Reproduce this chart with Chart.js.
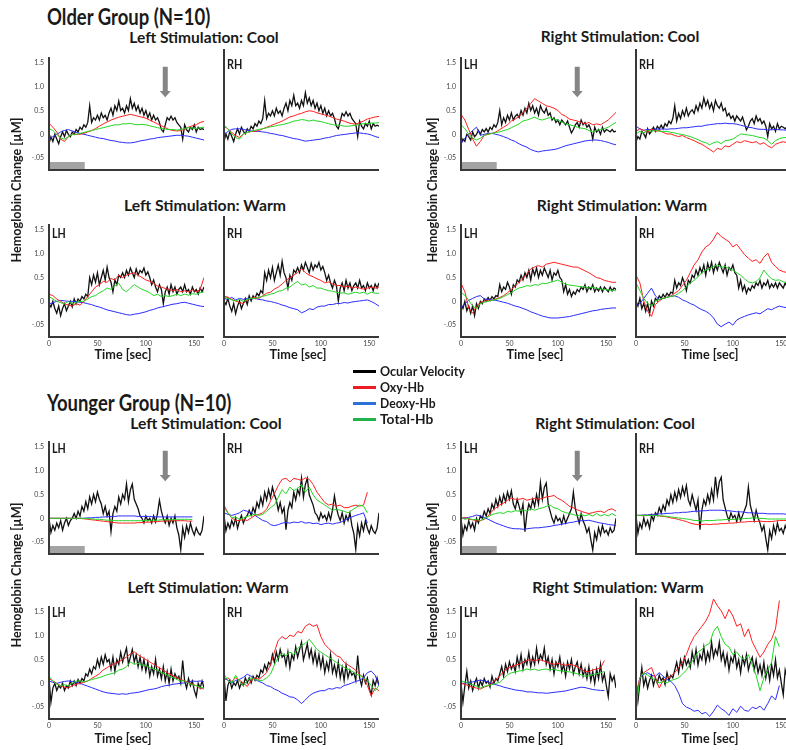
<!DOCTYPE html>
<html>
<head>
<meta charset="utf-8">
<script src="https://cdn.jsdelivr.net/npm/chart.js@4.4.1/dist/chart.umd.min.js"></script>
<style>
  body { margin: 0; width: 786px; height: 750px; overflow: hidden; background: #fff; position: relative; font-family: Lato, "Open Sans", sans-serif; }
  .t { position: absolute; font-weight: bold; white-space: nowrap; color: #1a1a1a; line-height: 1; }
  canvas { position: absolute; }
  .key { position: absolute; height: 3px; width: 23px; }
</style>
</head>
<body>
<script>
// ---- data ----
const hbTime = [0,4,8,12,16,20,24,28,32,36,40,44,48,52,56,60,64,68,72,76,80,84,88,92,96,100,104,108,112,116,120,124,128,132,136,140,144,148,152,156,160];
const eyeTime = Array.from({length: 81}, (_, i) => i * 2);
const xTicks = [0, 50, 100, 150];
const yTicks = [-0.5, 0, 0.5, 1.0, 1.5];
const yTickText = ['-.05', '0', '0.5', '1.0', '1.5'];
const seriesNames = ['Ocular Velocity', 'Oxy-Hb', 'Deoxy-Hb', 'Total-Hb'];
const stimBar = [0, 37];
const stimLevel = -0.58;
const cueTime = 120;

// older, left stimulation, cool
const oLCeye = [-0.2,-0.05,-0.15,0.0,-0.1,-0.2,-0.05,0.05,-0.05,0.08,0.0,-0.05,0.05,0.0,0.1,0.05,0.15,0.1,0.2,0.15,0.25,0.6,0.25,0.35,0.3,0.4,0.3,0.45,0.35,0.4,0.3,0.45,0.55,0.4,0.6,0.5,0.7,0.5,0.55,0.45,0.6,0.5,0.75,0.55,0.65,0.5,0.6,0.45,0.55,0.4,0.5,0.35,0.45,0.3,0.4,0.3,0.35,0.25,0.1,0.05,0.2,0.35,0.3,0.38,0.3,0.35,0.25,0.2,0.15,-0.1,0.2,0.1,0.05,0.15,0.1,0.2,0.05,0.15,0.1,0.12,0.1];
const oLC_LH_oxy = [0.23,0.15,0.05,-0.1,-0.15,-0.05,0.0,0.0,0.0,0.02,0.05,0.08,0.12,0.17,0.22,0.26,0.3,0.33,0.36,0.38,0.4,0.42,0.4,0.38,0.36,0.34,0.3,0.26,0.22,0.18,0.14,0.1,0.08,0.07,0.08,0.1,0.15,0.18,0.2,0.25,0.27];
const oLC_LH_deoxy = [-0.1,-0.05,0.0,0.05,0.08,0.1,0.07,0.04,0.02,0.0,-0.02,-0.04,-0.06,-0.08,-0.09,-0.11,-0.13,-0.14,-0.16,-0.17,-0.18,-0.18,-0.17,-0.15,-0.13,-0.12,-0.1,-0.09,-0.07,-0.06,-0.05,-0.04,-0.03,-0.02,-0.02,-0.03,-0.04,-0.06,-0.08,-0.1,-0.12];
const oLC_LH_total = [0.12,0.08,0.0,-0.08,-0.1,-0.05,0.0,0.0,0.02,0.04,0.06,0.08,0.1,0.12,0.14,0.16,0.18,0.2,0.2,0.22,0.22,0.23,0.21,0.2,0.21,0.2,0.18,0.16,0.14,0.12,0.11,0.1,0.1,0.09,0.1,0.12,0.14,0.13,0.12,0.14,0.15];
const oLC_RH_oxy = [0.1,0.05,-0.02,-0.08,-0.12,-0.05,-0.02,0.0,0.0,0.02,0.05,0.08,0.11,0.14,0.17,0.2,0.24,0.28,0.3,0.33,0.35,0.38,0.4,0.39,0.36,0.34,0.32,0.3,0.27,0.24,0.22,0.2,0.17,0.15,0.14,0.17,0.2,0.24,0.26,0.28,0.29];
const oLC_RH_deoxy = [-0.08,0.0,0.04,0.05,0.05,0.04,0.02,0.01,0.0,0.0,-0.01,-0.02,-0.04,-0.05,-0.07,-0.08,-0.1,-0.12,-0.14,-0.15,-0.17,-0.19,-0.18,-0.17,-0.16,-0.15,-0.13,-0.12,-0.1,-0.08,-0.07,-0.06,-0.05,-0.04,-0.03,-0.03,-0.04,-0.05,-0.07,-0.1,-0.12];
const oLC_RH_total = [0.12,0.05,-0.05,-0.12,-0.15,-0.05,-0.02,0.0,0.02,0.04,0.05,0.07,0.09,0.1,0.12,0.13,0.15,0.17,0.2,0.21,0.23,0.22,0.2,0.22,0.2,0.19,0.17,0.15,0.13,0.12,0.12,0.1,0.1,0.11,0.12,0.14,0.15,0.15,0.16,0.16,0.17];

// older, left stimulation, warm
const oLWeye = [-0.05,-0.12,0.0,-0.15,-0.25,-0.1,-0.3,-0.15,-0.05,-0.2,-0.1,0.0,-0.12,0.05,-0.05,0.05,0.0,0.1,0.05,0.15,0.1,0.5,0.35,0.55,0.4,0.6,0.35,0.5,0.65,0.45,0.72,0.5,0.4,0.2,0.45,0.35,0.55,0.5,0.6,0.5,0.65,0.55,0.7,0.6,0.5,0.68,0.55,0.65,0.6,0.7,0.55,0.62,0.5,0.35,0.45,0.3,0.2,0.35,0.25,-0.05,0.2,0.3,0.15,0.35,0.2,0.3,0.15,0.25,0.3,0.2,0.35,0.2,0.25,0.15,0.3,0.2,0.25,0.15,0.28,0.2,0.3];
const oLW_LH_oxy = [0.15,0.12,0.05,0.0,-0.05,-0.08,-0.1,-0.05,-0.08,0.0,0.1,0.2,0.3,0.35,0.42,0.4,0.48,0.45,0.55,0.5,0.55,0.58,0.6,0.55,0.5,0.45,0.42,0.38,0.32,0.3,0.27,0.25,0.22,0.25,0.2,0.22,0.2,0.24,0.2,0.25,0.5];
const oLW_LH_deoxy = [-0.06,-0.03,0.0,0.02,0.01,0.0,0.0,-0.01,-0.02,-0.03,-0.05,-0.07,-0.1,-0.12,-0.15,-0.18,-0.2,-0.22,-0.24,-0.26,-0.28,-0.29,-0.27,-0.26,-0.24,-0.22,-0.19,-0.17,-0.14,-0.12,-0.1,-0.08,-0.06,-0.05,-0.03,-0.02,-0.04,-0.06,-0.08,-0.1,-0.11];
const oLW_LH_total = [0.1,0.05,0.0,-0.03,-0.05,0.0,-0.05,-0.02,0.0,0.0,0.05,0.1,0.12,0.18,0.22,0.28,0.25,0.33,0.38,0.25,0.2,0.28,0.35,0.3,0.25,0.22,0.18,0.12,0.15,0.1,0.12,0.1,0.12,0.15,0.12,0.15,0.13,0.16,0.15,0.18,0.2];
const oLW_RH_oxy = [0.05,0.02,-0.02,-0.05,-0.08,-0.1,-0.03,0.0,0.02,0.0,0.05,0.1,0.12,0.18,0.22,0.28,0.35,0.4,0.45,0.5,0.58,0.5,0.45,0.42,0.38,0.35,0.3,0.32,0.28,0.25,0.25,0.22,0.24,0.2,0.22,0.2,0.18,0.2,0.22,0.2,0.22];
const oLW_RH_deoxy = [0.0,-0.02,0.02,-0.03,0.0,-0.02,0.0,-0.01,0.0,-0.02,-0.03,-0.05,-0.06,-0.08,-0.1,-0.13,-0.15,-0.18,-0.2,-0.22,-0.28,-0.25,-0.2,-0.22,-0.17,-0.15,-0.15,-0.12,-0.12,-0.1,-0.1,-0.08,-0.09,-0.07,-0.06,-0.05,-0.04,-0.03,-0.06,-0.1,-0.15];
const oLW_RH_total = [0.03,0.0,-0.03,-0.05,-0.02,-0.06,-0.02,0.0,0.0,0.02,0.04,0.06,0.08,0.1,0.14,0.15,0.2,0.22,0.28,0.33,0.26,0.28,0.22,0.25,0.2,0.2,0.17,0.15,0.14,0.12,0.1,0.11,0.08,0.1,0.12,0.1,0.12,0.08,0.12,0.1,0.1];

// older, right stimulation, cool
const oRCeye = [-0.2,-0.1,-0.15,0.0,-0.05,-0.12,0.05,-0.05,0.0,0.08,0.0,0.1,0.05,0.12,0.05,0.15,0.1,0.2,0.15,0.25,0.5,0.2,0.35,0.25,0.4,0.3,0.45,0.3,0.38,0.42,0.35,0.5,0.4,0.55,0.45,0.65,0.5,0.6,0.45,0.55,0.4,0.6,0.5,0.45,0.55,0.4,0.45,0.3,0.35,0.25,0.3,0.2,0.3,0.25,0.2,0.28,0.15,0.03,0.1,0.2,0.25,0.15,0.3,0.2,0.25,0.15,0.2,0.1,-0.1,0.15,0.05,0.1,0.0,0.15,0.05,0.1,0.08,0.05,0.1,0.05,0.07];
const oRC_LH_oxy = [0.42,0.3,0.1,-0.1,-0.25,-0.15,-0.02,0.0,0.02,0.05,0.1,0.15,0.2,0.28,0.32,0.38,0.45,0.55,0.65,0.75,0.7,0.65,0.6,0.58,0.55,0.5,0.42,0.38,0.32,0.3,0.28,0.25,0.22,0.25,0.2,0.22,0.2,0.25,0.3,0.38,0.46];
const oRC_LH_deoxy = [-0.2,-0.08,0.0,0.08,0.15,-0.02,0.0,0.02,0.02,0.0,-0.02,-0.05,-0.08,-0.12,-0.15,-0.2,-0.24,-0.27,-0.32,-0.35,-0.37,-0.35,-0.34,-0.33,-0.32,-0.3,-0.27,-0.24,-0.22,-0.2,-0.18,-0.16,-0.14,-0.13,-0.12,-0.12,-0.13,-0.15,-0.17,-0.2,-0.22];
const oRC_LH_total = [0.2,0.12,0.0,-0.08,-0.12,-0.08,-0.02,0.0,0.02,0.04,0.05,0.08,0.1,0.14,0.18,0.22,0.28,0.3,0.33,0.36,0.32,0.3,0.33,0.35,0.32,0.3,0.26,0.22,0.2,0.18,0.15,0.13,0.12,0.08,0.05,0.08,0.1,0.12,0.15,0.2,0.25];
const oRC_RH_oxy = [0.0,0.05,0.02,-0.02,0.05,0.0,0.02,-0.02,-0.05,-0.05,-0.08,-0.1,-0.08,-0.12,-0.15,-0.18,-0.22,-0.25,-0.3,-0.35,-0.4,-0.33,-0.35,-0.28,-0.3,-0.25,-0.2,-0.22,-0.18,-0.2,-0.22,-0.2,-0.25,-0.22,-0.28,-0.32,-0.25,-0.22,-0.2,-0.22,-0.2];
const oRC_RH_deoxy = [0.1,0.05,0.02,0.04,0.03,0.05,0.04,0.05,0.04,0.05,0.05,0.06,0.07,0.07,0.08,0.09,0.1,0.1,0.12,0.13,0.14,0.15,0.15,0.16,0.15,0.15,0.14,0.12,0.1,0.08,0.07,0.05,0.04,0.04,0.03,0.03,0.04,0.03,0.03,0.02,0.02];
const oRC_RH_total = [-0.05,0.0,-0.03,0.02,0.0,0.02,0.0,0.0,0.0,-0.02,-0.03,-0.05,-0.06,-0.08,-0.1,-0.13,-0.16,-0.2,-0.22,-0.26,-0.22,-0.2,-0.24,-0.18,-0.17,-0.15,-0.1,-0.05,-0.06,-0.07,-0.08,-0.1,-0.12,-0.13,-0.18,-0.25,-0.18,-0.14,-0.12,-0.12,-0.1];

// older, right stimulation, warm
const oRWeye = [-0.05,-0.15,0.0,-0.2,-0.1,-0.25,-0.1,-0.3,-0.05,-0.15,0.0,-0.05,0.05,0.0,0.08,0.02,0.1,0.05,0.12,0.1,0.35,0.2,0.3,0.25,0.4,0.3,0.15,0.35,0.3,0.45,0.4,0.55,0.45,0.6,0.5,0.65,0.45,0.68,0.55,0.7,0.5,0.65,0.55,0.7,0.6,0.5,0.65,0.45,0.6,0.55,0.65,0.5,0.45,0.2,0.35,0.15,0.25,0.1,0.2,0.15,0.25,0.2,0.3,0.25,0.35,0.2,0.3,0.25,0.35,0.2,0.28,0.22,0.3,0.2,0.3,0.25,0.2,0.3,0.22,0.28,0.25];
const oRW_LH_oxy = [0.38,0.2,-0.15,-0.25,-0.1,-0.02,0.0,0.02,0.02,0.05,0.08,0.12,0.18,0.25,0.32,0.4,0.48,0.58,0.68,0.72,0.75,0.72,0.78,0.8,0.82,0.8,0.78,0.76,0.74,0.72,0.72,0.68,0.64,0.6,0.55,0.5,0.48,0.44,0.42,0.4,0.4];
const oRW_LH_deoxy = [-0.15,-0.05,0.02,0.06,0.1,0.12,0.05,0.04,0.03,0.02,0.0,-0.02,-0.04,-0.07,-0.1,-0.12,-0.15,-0.18,-0.22,-0.25,-0.28,-0.31,-0.33,-0.35,-0.35,-0.35,-0.34,-0.33,-0.32,-0.3,-0.28,-0.26,-0.24,-0.22,-0.2,-0.19,-0.17,-0.16,-0.15,-0.14,-0.14];
const oRW_LH_total = [0.2,0.12,0.02,-0.1,-0.15,-0.05,-0.02,0.0,0.02,0.04,0.06,0.1,0.14,0.18,0.24,0.28,0.3,0.33,0.32,0.35,0.34,0.38,0.37,0.4,0.42,0.45,0.4,0.36,0.34,0.33,0.32,0.3,0.31,0.28,0.3,0.27,0.26,0.25,0.24,0.23,0.22];
const oRW_RH_oxy = [0.45,0.3,-0.05,-0.25,-0.35,-0.12,-0.05,0.0,0.02,0.05,0.1,0.15,0.25,0.35,0.5,0.65,0.75,0.9,1.0,1.05,1.15,1.28,1.2,1.15,1.1,1.0,1.05,0.95,0.85,0.78,0.72,0.75,0.68,0.8,0.88,0.7,0.62,0.55,0.52,0.5,0.48];
const oRW_RH_deoxy = [-0.15,-0.1,0.0,0.1,0.2,0.05,-0.02,0.0,0.02,0.04,0.05,0.02,-0.03,-0.06,-0.1,-0.13,-0.18,-0.22,-0.25,-0.3,-0.38,-0.5,-0.55,-0.5,-0.46,-0.52,-0.42,-0.38,-0.35,-0.32,-0.3,-0.28,-0.3,-0.25,-0.2,-0.22,-0.18,-0.15,-0.17,-0.18,-0.18];
const oRW_RH_total = [0.3,0.15,0.0,-0.1,-0.15,-0.05,-0.02,0.0,0.02,0.04,0.05,0.1,0.15,0.22,0.3,0.35,0.42,0.5,0.55,0.58,0.62,0.65,0.6,0.62,0.58,0.55,0.5,0.45,0.38,0.32,0.3,0.33,0.4,0.55,0.45,0.38,0.35,0.36,0.32,0.3,0.3];

// younger, left stimulation, cool
const yLCeye = [0.0,-0.3,-0.15,-0.25,-0.1,-0.2,-0.05,-0.25,-0.1,0.0,-0.15,-0.05,0.0,0.1,0.0,0.15,0.05,0.25,0.15,0.35,0.2,0.45,0.3,0.5,0.35,0.55,0.4,0.3,0.1,0.25,0.05,0.15,-0.28,0.1,0.25,0.15,0.45,0.3,0.5,0.4,0.72,0.35,0.6,0.72,0.4,0.3,0.2,0.05,0.0,-0.1,0.05,-0.05,0.0,-0.1,0.05,-0.08,0.1,0.38,0.15,0.0,-0.1,0.05,-0.15,0.0,-0.1,0.05,-0.2,-0.35,-0.66,-0.2,-0.4,-0.15,-0.3,-0.1,-0.25,-0.35,-0.2,-0.3,-0.35,-0.25,0.05];
const yLC_LH_oxy = [0,0,0,0,0,0,0,0,0,-0.01,-0.02,-0.03,-0.04,-0.05,-0.06,-0.07,-0.08,-0.09,-0.1,-0.1,-0.1,-0.1,-0.1,-0.09,-0.09,-0.08,-0.08,-0.07,-0.07,-0.06,-0.06,-0.05,-0.05,-0.05,-0.05,-0.05,-0.06,-0.06];
const yLC_LH_deoxy = [0,0,0,0,0,0,0,0,0,0.0,0.01,0.01,0.02,0.02,0.03,0.03,0.04,0.04,0.05,0.05,0.05,0.05,0.05,0.04,0.04,0.04,0.04,0.03,0.03,0.03,0.03,0.03,0.03,0.03,0.03,0.03,0.03,0.03];
const yLC_LH_total = [0,0,0,0,0,0,0,0,0,0.0,-0.01,-0.01,-0.02,-0.02,-0.03,-0.04,-0.04,-0.05,-0.05,-0.05,-0.05,-0.05,-0.05,-0.05,-0.05,-0.05,-0.04,-0.04,-0.04,-0.03,-0.03,-0.03,-0.03,-0.02,-0.02,-0.02,-0.02,-0.03];
const yLC_RH_oxy = [0.2,0.05,-0.05,-0.1,-0.1,-0.08,-0.1,-0.05,0.0,0.02,0.05,0.12,0.28,0.42,0.58,0.7,0.72,0.65,0.72,0.7,0.68,0.73,0.7,0.6,0.45,0.35,0.25,0.2,0.22,0.18,0.2,0.15,0.15,0.18,0.2,0.18,0.2,0.45];
const yLC_RH_deoxy = [0.05,0.02,0.0,0.02,0.05,0.1,0.08,0.05,0.0,-0.05,-0.1,-0.12,-0.18,-0.2,-0.18,-0.15,-0.14,-0.15,-0.13,-0.14,-0.12,-0.15,-0.14,-0.16,-0.15,-0.18,-0.16,-0.15,-0.17,-0.15,-0.14,-0.1,-0.06,-0.03,0.0,0.02,0.05,-0.15];
const yLC_RH_total = [0.15,0.05,-0.05,-0.03,-0.08,-0.05,-0.02,0.0,0.02,0.0,0.02,0.08,0.15,0.2,0.35,0.5,0.42,0.55,0.48,0.52,0.6,0.45,0.55,0.4,0.3,0.25,0.2,0.15,0.1,0.12,0.1,0.08,0.05,0.1,0.15,0.2,0.18,0.05];

// younger, right stimulation, cool
const yRCeye = [0.0,-0.35,-0.15,-0.25,-0.05,-0.2,-0.1,-0.25,0.0,-0.1,0.05,0.0,0.15,0.05,0.2,0.1,0.3,0.2,0.4,0.25,0.45,0.3,0.5,0.35,0.55,0.4,0.58,0.3,0.2,0.4,0.25,0.1,0.3,-0.28,0.1,0.3,0.2,0.4,0.25,0.5,0.3,0.75,0.4,0.65,0.74,0.3,0.15,0.0,-0.1,0.05,-0.05,0.0,-0.12,0.05,-0.1,0.0,0.1,0.2,0.55,0.2,0.05,-0.1,0.1,-0.05,-0.15,-0.3,-0.2,-0.45,-0.67,-0.3,-0.45,-0.2,-0.35,-0.15,-0.3,-0.25,-0.35,-0.2,-0.3,-0.25,0.0];
const yRC_LH_oxy = [0.0,0.02,-0.02,-0.03,-0.05,-0.05,-0.02,0.05,0.15,0.22,0.28,0.32,0.38,0.42,0.4,0.4,0.42,0.38,0.4,0.42,0.4,0.42,0.45,0.46,0.48,0.42,0.38,0.32,0.25,0.22,0.18,0.15,0.12,0.1,0.12,0.14,0.15,0.12,0.18,0.2,0.15];
const yRC_LH_deoxy = [0.0,0.0,0.02,0.04,0.07,0.05,0.02,-0.02,-0.06,-0.1,-0.13,-0.16,-0.19,-0.21,-0.22,-0.22,-0.23,-0.22,-0.21,-0.2,-0.2,-0.19,-0.18,-0.17,-0.15,-0.14,-0.12,-0.11,-0.09,-0.08,-0.06,-0.05,-0.05,-0.04,-0.06,-0.08,-0.1,-0.11,-0.13,-0.14,-0.15];
const yRC_LH_total = [0.02,-0.02,0.0,-0.03,-0.02,-0.05,0.0,0.03,0.08,0.1,0.12,0.1,0.15,0.13,0.16,0.15,0.18,0.15,0.2,0.17,0.2,0.22,0.25,0.28,0.22,0.2,0.15,0.12,0.1,0.08,0.05,0.08,0.05,0.08,0.05,0.1,0.05,0.08,0.05,0.1,0.05];
const yRC_RH_oxy = [0.0,0.0,-0.01,0.0,0.0,0.0,-0.01,-0.02,-0.03,-0.05,-0.06,-0.08,-0.1,-0.12,-0.15,-0.17,-0.18,-0.18,-0.17,-0.18,-0.17,-0.17,-0.16,-0.16,-0.15,-0.15,-0.14,-0.13,-0.13,-0.12,-0.12,-0.12,-0.11,-0.12,-0.12,-0.12,-0.11,-0.1,-0.1,-0.1,-0.1];
const yRC_RH_deoxy = [0.0,0.0,0.01,0.01,0.02,0.02,0.03,0.03,0.04,0.04,0.05,0.05,0.06,0.06,0.07,0.08,0.08,0.09,0.09,0.1,0.1,0.1,0.1,0.09,0.09,0.08,0.07,0.07,0.06,0.05,0.05,0.04,0.04,0.04,0.03,0.03,0.03,0.03,0.03,0.02,0.02];
const yRC_RH_total = [0.0,0.0,0.0,0.0,0.0,0.0,-0.01,-0.01,-0.02,-0.03,-0.04,-0.05,-0.06,-0.07,-0.08,-0.1,-0.1,-0.11,-0.1,-0.1,-0.1,-0.09,-0.09,-0.08,-0.08,-0.08,-0.07,-0.07,-0.06,-0.06,-0.05,-0.05,-0.06,-0.06,-0.07,-0.07,-0.07,-0.07,-0.07,-0.07,-0.07];

// younger, left stimulation, warm
const yLWeye = [0.1,-0.4,-0.1,0.0,-0.15,-0.05,-0.1,0.0,-0.15,-0.05,-0.1,0.05,-0.05,0.05,-0.05,0.08,0.0,0.1,0.05,0.2,0.15,0.3,0.2,0.35,0.3,0.5,0.35,0.55,0.4,0.6,0.45,0.5,0.3,0.55,0.25,0.5,0.4,0.65,0.45,0.6,0.74,0.4,0.55,0.71,0.45,0.6,0.35,0.55,0.3,0.5,0.25,0.45,0.15,0.35,0.2,0.5,0.15,0.3,0.1,0.35,0.05,0.25,0.0,0.3,0.05,0.2,0.1,0.15,0.0,0.48,0.05,-0.1,0.1,-0.05,0.05,-0.15,-0.28,0.0,-0.1,0.05,-0.1];
const yLW_LH_oxy = [0.1,0.05,0.0,-0.05,-0.08,-0.1,-0.05,-0.02,0.0,0.02,0.05,0.1,0.15,0.2,0.28,0.33,0.38,0.42,0.45,0.5,0.55,0.62,0.66,0.6,0.55,0.5,0.45,0.4,0.35,0.3,0.25,0.2,0.16,0.12,0.08,0.05,0.02,-0.02,-0.05,-0.1,-0.12];
const yLW_LH_deoxy = [0.05,0.02,0.0,0.02,0.04,0.05,0.04,0.02,0.0,-0.03,-0.06,-0.09,-0.12,-0.15,-0.18,-0.2,-0.21,-0.22,-0.23,-0.22,-0.23,-0.21,-0.2,-0.19,-0.17,-0.15,-0.13,-0.12,-0.1,-0.07,-0.05,-0.04,-0.02,-0.01,0.0,0.01,0.03,0.05,0.04,0.05,0.03];
const yLW_LH_total = [0.15,0.05,-0.02,-0.05,-0.03,-0.05,0.0,0.05,0.05,0.03,0.05,0.08,0.1,0.12,0.15,0.18,0.2,0.22,0.28,0.3,0.35,0.45,0.4,0.42,0.38,0.38,0.33,0.3,0.28,0.22,0.2,0.15,0.12,0.08,0.05,0.05,0.0,-0.03,-0.05,-0.08,-0.1];
const yLW_RH_oxy = [0.0,0.05,-0.02,0.05,0.0,-0.05,-0.12,0.0,0.05,0.02,0.08,0.15,0.3,0.55,0.78,0.85,0.8,0.88,0.85,0.95,0.92,1.05,1.1,1.05,1.08,0.85,0.7,0.62,0.55,0.48,0.45,0.35,0.3,0.25,0.2,0.12,0.05,-0.1,-0.3,-0.15,-0.2];
const yLW_RH_deoxy = [0.05,0.0,-0.05,0.0,0.02,0.06,0.12,0.08,0.02,-0.02,-0.05,-0.1,-0.12,-0.17,-0.2,-0.25,-0.28,-0.32,-0.33,-0.38,-0.45,-0.38,-0.3,-0.25,-0.22,-0.2,-0.2,-0.16,-0.17,-0.14,-0.15,-0.1,-0.08,-0.05,-0.02,0.0,0.05,0.15,0.18,0.1,-0.1];
const yLW_RH_total = [0.12,0.0,-0.05,0.1,-0.02,-0.1,0.0,0.05,0.02,0.0,0.0,0.05,0.12,0.3,0.45,0.52,0.48,0.55,0.5,0.62,0.68,0.72,0.8,0.7,0.6,0.55,0.5,0.45,0.4,0.35,0.3,0.25,0.22,0.18,0.12,0.1,0.05,0.0,-0.1,-0.2,-0.1];

// younger, right stimulation, warm
const yRWeye = [0.0,-0.4,-0.05,0.25,-0.1,0.05,-0.15,0.0,0.1,-0.1,0.05,-0.05,0.1,0.0,0.05,-0.08,0.15,0.0,0.1,0.05,0.2,0.35,0.15,0.4,0.25,0.45,0.3,0.4,0.25,0.55,0.35,0.6,0.3,0.5,0.4,0.65,0.35,0.55,0.4,0.74,0.45,0.6,0.5,0.74,0.4,0.55,0.3,0.5,0.2,0.45,0.35,0.55,0.25,0.4,0.15,0.45,0.3,0.5,0.2,0.35,0.45,0.2,0.4,0.15,0.3,0.1,0.35,0.05,0.25,0.0,0.3,0.1,0.4,0.05,0.2,-0.05,-0.28,0.2,0.05,0.15,-0.1];
const yRW_LH_oxy = [0.0,-0.02,-0.05,-0.08,-0.1,-0.12,-0.08,-0.05,0.0,0.08,0.15,0.25,0.32,0.35,0.38,0.4,0.45,0.48,0.5,0.47,0.5,0.48,0.45,0.42,0.4,0.42,0.4,0.38,0.4,0.38,0.35,0.3,0.25,0.25,0.28,0.3,0.32,0.48];
const yRW_LH_deoxy = [0.0,0.0,0.02,0.03,0.05,0.07,0.05,0.03,0.0,-0.03,-0.05,-0.08,-0.1,-0.12,-0.14,-0.15,-0.16,-0.18,-0.18,-0.19,-0.2,-0.2,-0.21,-0.2,-0.19,-0.18,-0.17,-0.16,-0.14,-0.12,-0.1,-0.08,-0.09,-0.11,-0.13,-0.14,-0.15,-0.15];
const yRW_LH_total = [0.05,0.03,0.0,-0.03,-0.06,-0.1,-0.06,-0.05,-0.03,0.0,0.02,0.1,0.18,0.22,0.24,0.26,0.27,0.3,0.28,0.3,0.27,0.29,0.3,0.28,0.3,0.27,0.26,0.25,0.24,0.22,0.2,0.18,0.15,0.16,0.18,0.2,0.22,0.25];
const yRW_RH_oxy = [-0.3,0.05,0.15,0.2,0.25,0.05,-0.15,0.0,0.05,0.08,0.15,0.25,0.35,0.5,0.7,0.85,0.95,1.05,1.15,1.3,1.58,1.45,1.35,1.2,1.38,1.25,1.05,1.1,0.85,1.0,0.75,0.6,0.45,0.55,0.7,0.8,1.0,1.55];
const yRW_RH_deoxy = [-0.3,0.05,0.12,0.15,0.1,0.08,0.15,0.08,0.02,-0.02,-0.1,-0.25,-0.45,-0.52,-0.55,-0.6,-0.58,-0.65,-0.62,-0.7,-0.6,-0.48,-0.55,-0.6,-0.68,-0.55,-0.62,-0.5,-0.58,-0.6,-0.52,-0.55,-0.5,-0.58,-0.45,-0.3,-0.38,-0.1];
const yRW_RH_total = [-0.55,0.05,0.15,0.1,0.05,0.0,-0.05,-0.02,-0.05,0.0,0.02,0.05,0.12,0.2,0.32,0.42,0.55,0.6,0.68,0.72,0.95,1.05,0.85,0.7,0.65,0.5,0.55,0.45,0.4,0.5,0.3,0.1,-0.2,0.05,0.2,0.35,0.85,0.65];

// ---- layout ----
const colors = { eye: '#111111', oxy: '#ff1f1f', deoxy: '#2b2bff', total: '#22d622' };
const rowTop = [49, 216, 433, 598];
const plotH = 121, plotW = 155, yAxisW = 30, xAxisH = 14;
const pairX = [[49, 224], [461, 636]];
const labelY = [64, 233, 448, 612];

const conditions = [
  { row: 0, pair: 0, cool: true,  eye: oLCeye, lh: [oLC_LH_oxy, oLC_LH_deoxy, oLC_LH_total], rh: [oLC_RH_oxy, oLC_RH_deoxy, oLC_RH_total], noLH: true },
  { row: 0, pair: 1, cool: true,  eye: oRCeye, lh: [oRC_LH_oxy, oRC_LH_deoxy, oRC_LH_total], rh: [oRC_RH_oxy, oRC_RH_deoxy, oRC_RH_total] },
  { row: 1, pair: 0, cool: false, eye: oLWeye, lh: [oLW_LH_oxy, oLW_LH_deoxy, oLW_LH_total], rh: [oLW_RH_oxy, oLW_RH_deoxy, oLW_RH_total] },
  { row: 1, pair: 1, cool: false, eye: oRWeye, lh: [oRW_LH_oxy, oRW_LH_deoxy, oRW_LH_total], rh: [oRW_RH_oxy, oRW_RH_deoxy, oRW_RH_total] },
  { row: 2, pair: 0, cool: true,  eye: yLCeye, lh: [yLC_LH_oxy, yLC_LH_deoxy, yLC_LH_total], rh: [yLC_RH_oxy, yLC_RH_deoxy, yLC_RH_total] },
  { row: 2, pair: 1, cool: true,  eye: yRCeye, lh: [yRC_LH_oxy, yRC_LH_deoxy, yRC_LH_total], rh: [yRC_RH_oxy, yRC_RH_deoxy, yRC_RH_total] },
  { row: 3, pair: 0, cool: false, eye: yLWeye, lh: [yLW_LH_oxy, yLW_LH_deoxy, yLW_LH_total], rh: [yLW_RH_oxy, yLW_RH_deoxy, yLW_RH_total] },
  { row: 3, pair: 1, cool: false, eye: yRWeye, lh: [yRW_LH_oxy, yRW_LH_deoxy, yRW_LH_total], rh: [yRW_RH_oxy, yRW_RH_deoxy, yRW_RH_total] }
];

function pts(times, vals) { return vals.map((v, i) => ({ x: times[i], y: v })); }

// grey cue arrow drawn through the chart scales
const cueArrow = {
  id: 'cueArrow',
  afterDatasetsDraw(chart, args, opts) {
    if (!opts.show) return;
    const { ctx, scales: { x, y } } = chart;
    const cx = x.getPixelForValue(cueTime);
    const top = y.getPixelForValue(1.42), neck = y.getPixelForValue(0.91), tip = y.getPixelForValue(0.78);
    ctx.save();
    ctx.fillStyle = '#858585';
    ctx.fillRect(cx - 2.5, top, 5, neck - top);
    ctx.beginPath();
    ctx.moveTo(cx - 5.5, neck); ctx.lineTo(cx + 5.5, neck); ctx.lineTo(cx, tip);
    ctx.closePath(); ctx.fill();
    ctx.restore();
  }
};

function makePanel(left, top, eye, hb, showYTicks, showXTicks, cue) {
  const cv = document.createElement('canvas');
  cv.width = yAxisW + plotW; cv.height = plotH + xAxisH;
  cv.style.left = (left - yAxisW) + 'px'; cv.style.top = top + 'px';
  document.body.appendChild(cv);
  const datasets = [
    { data: pts(eyeTime, eye), borderColor: colors.eye, borderWidth: 1.3, order: 4 },
    { data: pts(hbTime, hb[0]), borderColor: colors.oxy, borderWidth: 1, order: 2 },
    { data: pts(hbTime, hb[1]), borderColor: colors.deoxy, borderWidth: 1, order: 3 },
    { data: pts(hbTime, hb[2]), borderColor: colors.total, borderWidth: 1, order: 1 }
  ];
  if (cue) {
    datasets.push({ data: stimBar.map(t => ({ x: t, y: stimLevel })), borderWidth: 0, backgroundColor: '#a3a3a3', fill: 'start', order: 5 });
  }
  datasets.forEach(d => { d.pointRadius = 0; d.tension = 0; if (!d.fill) d.fill = false; });
  new Chart(cv, {
    type: 'line',
    data: { datasets },
    plugins: [cueArrow],
    options: {
      animation: false, responsive: false, events: [],
      layout: { padding: 0, autoPadding: false },
      plugins: { legend: { display: false }, tooltip: { enabled: false }, cueArrow: { show: cue } },
      scales: {
        x: {
          type: 'linear', min: 0, max: 160,
          afterBuildTicks: s => { s.ticks = xTicks.map(v => ({ value: v })); },
          afterFit: s => { s.height = xAxisH; },
          grid: { display: false, drawTicks: false },
          border: { color: '#383838', width: 2, z: 1 },
          ticks: { display: showXTicks, padding: 3, maxRotation: 0, autoSkip: false, color: '#444', font: { size: 7, family: 'Lato' }, callback: v => String(v) }
        },
        y: {
          min: -0.75, max: 1.6,
          afterBuildTicks: s => { s.ticks = yTicks.map(v => ({ value: v })); },
          afterFit: s => { s.width = yAxisW; },
          grid: { display: false, drawTicks: false },
          border: { color: '#383838', width: 2, z: 1 },
          ticks: { display: showYTicks, padding: 5, color: '#444', font: { size: 7, family: 'Lato' }, callback: v => yTickText[yTicks.indexOf(v)] }
        }
      }
    }
  });
}

conditions.forEach(c => {
  const [lx, rx] = pairX[c.pair];
  const top = rowTop[c.row];
  const warm = !c.cool;
  makePanel(lx, top, c.eye, c.lh, true, warm, c.cool);
  makePanel(rx, top, c.eye, c.rh, false, warm, false);
});

// ---- text ----
function text(str, x, y, size, w, align, rot) {
  const d = document.createElement('div');
  d.className = 't';
  d.textContent = str;
  d.style.fontSize = size + 'px';
  d.style.left = x + 'px'; d.style.top = y + 'px';
  document.body.appendChild(d);
  const sx = w ? w / d.offsetWidth : 1;
  const tx = align === 'left' ? '0' : '-50%';
  d.style.transformOrigin = align === 'left' ? '0 50%' : '50% 50%';
  d.style.transform = `translate(${tx},-50%)` + (rot ? ' rotate(-90deg)' : '') + ` scaleX(${sx})`;
  return d;
}

text('Older Group (N=10)', 47, 17, 22, 163, 'left');
text('Younger Group (N=10)', 47, 403, 22, 184, 'left');
text('Left Stimulation: Cool', 204, 37, 15, 149);
text('Right Stimulation: Cool', 620, 36, 15, 159);
text('Left Stimulation: Warm', 205, 205, 15, 162);
text('Right Stimulation: Warm', 622, 205, 15, 170);
text('Left Stimulation: Cool', 206, 423, 15, 151);
text('Right Stimulation: Cool', 615, 423, 15, 160);
text('Left Stimulation: Warm', 208, 587, 15, 161);
text('Right Stimulation: Warm', 618, 587, 15, 171);

[[354, 1], [738, 3]].forEach(([ty, row]) => {
  pairX.forEach(px => px.forEach(x => text('Time [sec]', x + plotW / 2 - 4, ty, 14, 57)));
});

[190, 575].forEach(cy => {
  text('Hemoglobin Change [µM]', 16, cy, 14, 145, 'center', true);
  text('Hemoglobin Change [µM]', 432, cy, 14, 145, 'center', true);
});

conditions.forEach(c => {
  const [lx, rx] = pairX[c.pair];
  if (!c.noLH) text('LH', lx + 3, labelY[c.row], 13, 14, 'left');
  text('RH', rx + 3, labelY[c.row], 13, 15, 'left');
});

// legend
const legendColors = ['#000000', '#ee1c24', '#2a72d8', '#22b24c'];
const legendW = [85, 44, 56, 53];
seriesNames.forEach((name, i) => {
  const cy = 371 + i * 16;
  const k = document.createElement('div');
  k.className = 'key';
  k.style.left = '353px'; k.style.top = (cy - 1.5) + 'px'; k.style.background = legendColors[i];
  document.body.appendChild(k);
  text(name, 380, cy, 13, legendW[i], 'left');
});
</script>
</body>
</html>
